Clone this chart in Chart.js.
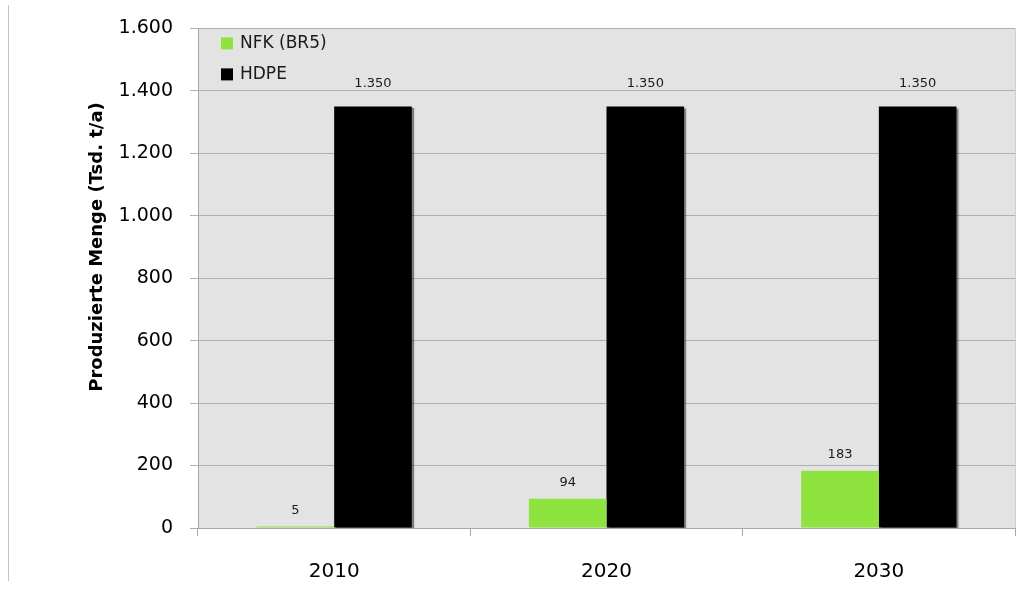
<!DOCTYPE html>
<html>
<head>
<meta charset="utf-8">
<script src="https://cdn.jsdelivr.net/npm/chart.js@4/dist/chart.umd.min.js"></script>
<style>
  body { margin: 0; background: #fff; }
  #wrap { position: relative; width: 1017px; height: 590px; }
  #edge { position: absolute; left: 8px; top: 5px; width: 1px; height: 576px; background: #c4c4c4; }
</style>
</head>
<body>
<div id="wrap">
  <div id="edge"></div>
  <canvas id="myChart" width="1017" height="590"></canvas>
</div>
<script>
const years = ['2010', '2020', '2030'];
const nfkValues = [5, 94, 183];
const hdpeValues = [1350, 1350, 1350];
const seriesNames = ['NFK (BR5)', 'HDPE'];
const seriesColors = ['#8ee33f', '#000000'];
const yTitle = 'Produzierte Menge (Tsd. t/a)';

const fontFamily = '"DejaVu Sans", sans-serif';

// grey plot background
const plotBg = {
    id: 'plotBg',
    beforeDraw(chart) {
        const a = chart.chartArea;
        const ctx = chart.ctx;
        ctx.save();
        ctx.fillStyle = '#e3e3e3';
        ctx.fillRect(a.left, a.top, a.right - a.left, a.bottom - a.top);
        ctx.strokeStyle = '#d0d0d0';
        ctx.lineWidth = 1;
        ctx.beginPath();
        ctx.moveTo(a.right + 0.5, a.top);
        ctx.lineTo(a.right + 0.5, a.bottom);
        ctx.stroke();
        ctx.restore();
    }
};

// slight shadow behind the black bars
const barShadow = {
    id: 'barShadow',
    beforeDatasetDraw(chart, args) {
        if (args.index !== 1) return;
        const ctx = chart.ctx;
        ctx.save();
        ctx.shadowColor = 'rgba(0,0,0,0.45)';
        ctx.shadowOffsetX = 2;
        ctx.shadowOffsetY = 2;
        ctx.shadowBlur = 1;
    },
    afterDatasetDraw(chart, args) {
        if (args.index !== 1) return;
        chart.ctx.restore();
    }
};

// value labels above bars
const valueLabels = {
    id: 'valueLabels',
    afterDatasetsDraw(chart) {
        const ctx = chart.ctx;
        ctx.save();
        ctx.font = '13px ' + fontFamily;
        ctx.fillStyle = '#1a1a1a';
        ctx.textAlign = 'center';
        ctx.textBaseline = 'middle';
        chart.data.datasets.forEach((ds, i) => {
            const meta = chart.getDatasetMeta(i);
            const off = i === 1 ? 23 : 16;
            meta.data.forEach((bar, j) => {
                ctx.fillText(ds.data[j].toLocaleString('de-DE'), bar.x, bar.y - off);
            });
        });
        ctx.restore();
    }
};

// legend inside the plot, top left
const insideLegend = {
    id: 'insideLegend',
    afterDraw(chart) {
        const ctx = chart.ctx;
        const a = chart.chartArea;
        ctx.save();
        ctx.font = '17px ' + fontFamily;
        ctx.textAlign = 'left';
        ctx.textBaseline = 'middle';
        chart.data.datasets.forEach((ds, i) => {
            const cy = a.top + 15 + i * 31;
            ctx.fillStyle = ds.backgroundColor;
            ctx.fillRect(a.left + 23, cy - 6, 12, 12);
            ctx.fillStyle = '#1a1a1a';
            ctx.fillText(ds.label, a.left + 42, cy);
        });
        ctx.restore();
    }
};

// rotated y axis title
const yTitlePlugin = {
    id: 'yTitlePlugin',
    afterDraw(chart) {
        const ctx = chart.ctx;
        ctx.save();
        ctx.translate(97, 247);
        ctx.rotate(-Math.PI / 2);
        ctx.font = 'bold 18px ' + fontFamily;
        ctx.fillStyle = '#000';
        ctx.textAlign = 'center';
        ctx.textBaseline = 'middle';
        ctx.fillText(yTitle, 0, 0);
        ctx.restore();
    }
};

const chart = new Chart(document.getElementById('myChart').getContext('2d'), {
    type: 'bar',
    data: {
        labels: years,
        datasets: [{
            label: seriesNames[0],
            data: nfkValues,
            backgroundColor: seriesColors[0],
            borderWidth: 0,
            barPercentage: 1,
            categoryPercentage: 0.57
        }, {
            label: seriesNames[1],
            data: hdpeValues,
            backgroundColor: seriesColors[1],
            borderWidth: 0,
            barPercentage: 1,
            categoryPercentage: 0.57
        }]
    },
    options: {
        responsive: false,
        animation: false,
        locale: 'de-DE',
        layout: {
            padding: { top: 28, right: 2, bottom: 0, left: 0 }
        },
        plugins: {
            legend: { display: false },
            tooltip: { enabled: false }
        },
        scales: {
            x: {
                afterFit(scale) { scale.height = 62; },
                grid: {
                    offset: true,
                    drawOnChartArea: false,
                    drawTicks: true,
                    tickLength: 8,
                    color: '#a8a8a8'
                },
                border: { color: '#a8a8a8' },
                ticks: {
                    padding: 24,
                    color: '#000',
                    font: { size: 20, family: fontFamily }
                }
            },
            y: {
                min: 0,
                max: 1600,
                afterFit(scale) { scale.width = 198; },
                grid: {
                    color: '#b0b0b0',
                    tickLength: 8
                },
                border: { color: '#a8a8a8' },
                ticks: {
                    stepSize: 200,
                    padding: 17,
                    color: '#000',
                    font: { size: 19, family: fontFamily }
                }
            }
        }
    },
    plugins: [plotBg, barShadow, valueLabels, insideLegend, yTitlePlugin]
});
</script>
</body>
</html>
